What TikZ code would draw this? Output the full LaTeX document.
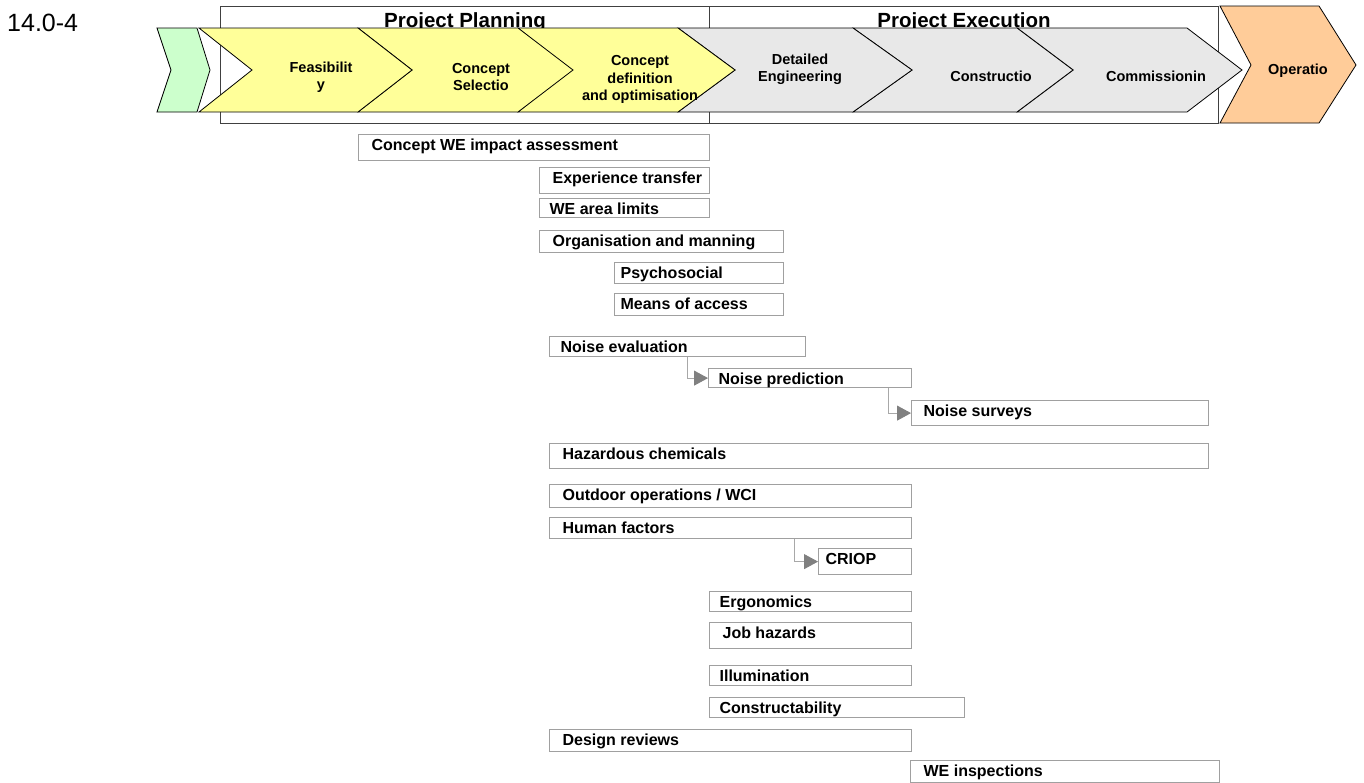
\documentclass[tikz,border=0pt]{standalone}
\usepackage{fontspec}
\setmainfont{Liberation Sans}
\usetikzlibrary{arrows.meta}
\definecolor{cyellow}{HTML}{FFFF99}
\definecolor{cgray}{HTML}{E8E8E8}
\definecolor{cgreen}{HTML}{CCFFCC}
\definecolor{corange}{HTML}{FFCC99}
\definecolor{boxline}{HTML}{A0A0A0}
\definecolor{connline}{HTML}{A8A8A8}
\definecolor{headgray}{HTML}{808080}
\definecolor{framecol}{HTML}{404040}
\tikzset{
  chev/.style={draw=black, line width=0.8pt, line join=miter},
  chevtext/.style={font=\fontsize{14.5}{17.5}\selectfont\bfseries, align=center, inner sep=0pt},
  wbox/.style={draw=boxline, line width=1.2pt, fill=white, anchor=north west,
    inner xsep=0pt, inner ysep=3pt, text height=13pt,
    font=\fontsize{16}{19}\selectfont\bfseries},
  conn/.style={draw=connline, line width=0.9pt,
    -{Triangle[length=14pt,width=15pt,color=headgray]}},
}
\newcommand\wbox[7]{%
  \pgfmathsetmacro\bw{#4-#2}%
  \pgfmathsetmacro\bd{#5-#3-19}%
  \node[wbox, text depth=\bd pt] (#1) at (#2,#3)
    {\makebox[\bw pt][l]{\hspace*{#6pt}#7}};}
\begin{document}
\begin{tikzpicture}[x=1pt,y=-1pt]
\useasboundingbox[fill=white] (0,0) rectangle (1364,782);

% number
\node[anchor=base west, inner sep=0pt, font=\fontsize{25}{30}\selectfont] (num) at (7,31) {14.0-4};

% frame and titles (behind chevrons)
\draw[framecol, line width=1pt] (220,6) rectangle (1218,123);
\draw[framecol, line width=1pt] (709,6) -- (709,123);
\node[anchor=base, inner sep=0pt, font=\fontsize{20.5}{24}\selectfont\bfseries] (tplan) at (465,27) {Project Planning};
\node[anchor=base, inner sep=0pt, font=\fontsize{20.5}{24}\selectfont\bfseries] (texec) at (964,27) {Project Execution};

% chevrons (right to left, so earlier tips lie on top)
\filldraw[chev, fill=corange] (1220,6) -- (1319,6) -- (1356,65) -- (1319,123) -- (1220,123) -- (1251,65) -- cycle;
\filldraw[chev, fill=cgray] (1017,28) -- (1187,28) -- (1242,70) -- (1187,112) -- (1017,112) -- (1073,70) -- cycle;
\filldraw[chev, fill=cgray] (853,28) -- (1017,28) -- (1073,70) -- (1017,112) -- (853,112) -- (912,70) -- cycle;
\filldraw[chev, fill=cgray] (678,28) -- (853,28) -- (912,70) -- (853,112) -- (678,112) -- (735,70) -- cycle;
\filldraw[chev, fill=cyellow] (518,28) -- (678,28) -- (735,70) -- (678,112) -- (518,112) -- (570,70) -- cycle;
\filldraw[chev, fill=cyellow] (358,28) -- (518,28) -- (573,70) -- (518,112) -- (358,112) -- (412,70) -- cycle;
\filldraw[chev, fill=cyellow] (199,28) -- (358,28) -- (412,70) -- (358,112) -- (199,112) -- (252,70) -- cycle;
\filldraw[chev, fill=cgreen] (157,28) -- (197,28) -- (210,70) -- (197,112) -- (157,112) -- (171,70) -- cycle;

% chevron texts
\node[chevtext] (feas) at (321,77) {Feasibilit\\y};
\node[chevtext] (csel) at (481,77) {Concept\\Selectio};
\node[chevtext] (cdef) at (640,79.5) {Concept\\definition\\and optimisation};
\node[chevtext] (deng) at (800,69.5) {Detailed\\Engineering};
\node[chevtext] (cons) at (991,76.5) {Constructio};
\node[chevtext] (comm) at (1156,76.5) {Commissionin};
\node[chevtext] (oper) at (1298,70.5) {Operatio};

% activity boxes
\wbox{cwe}{358}{134}{709}{160}{13}{Concept WE impact assessment}
\wbox{exp}{539}{167}{709}{193}{13}{Experience transfer}
\wbox{area}{539}{198}{709}{217}{10}{WE area limits}
\wbox{org}{539}{230}{783}{252}{13}{Organisation and manning}
\wbox{psy}{614}{262}{783}{283}{6}{Psychosocial}
\wbox{moa}{614}{293}{783}{315}{6}{Means of access}
\wbox{neval}{549}{336}{805}{356}{11}{Noise evaluation}
\wbox{npred}{708}{368}{911}{387}{10}{Noise prediction}
\wbox{nsurv}{911}{400}{1208}{425}{12}{Noise surveys}
\wbox{haz}{549}{443}{1208}{468}{13}{Hazardous chemicals}
\wbox{outd}{549}{484}{911}{507}{13}{Outdoor operations / WCI}
\wbox{hum}{549}{517}{911}{538}{13}{Human factors}
\wbox{criop}{818}{548}{911}{574}{7}{CRIOP}
\wbox{ergo}{709}{591}{911}{611}{10}{Ergonomics}
\wbox{job}{709}{622}{911}{648}{13}{Job hazards}
\wbox{illu}{709}{665}{911}{685}{10}{Illumination}
\wbox{constr}{709}{697}{964}{717}{10}{Constructability}
\wbox{des}{549}{729}{911}{751}{13}{Design reviews}
\wbox{wei}{910}{760}{1219}{782}{13}{WE inspections}

% connectors
\draw[conn] ([xshift=138pt]neval.south west) |- (npred.west);
\draw[conn] ([xshift=180pt]npred.south west) |- (nsurv.west);
\draw[conn] ([xshift=245pt]hum.south west) |- (criop.west);
\end{tikzpicture}
\end{document}
